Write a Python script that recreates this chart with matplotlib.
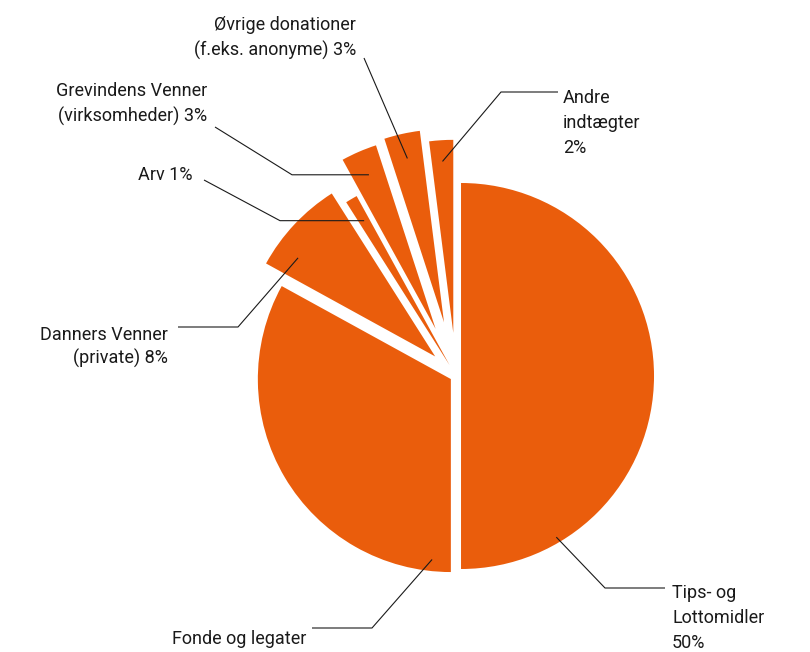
import numpy as np
import matplotlib
matplotlib.use("Agg")
import matplotlib.pyplot as plt

# indtægtsfordeling, medurs fra kl. 12
labels = ["Tips- og\nLottomidler\n50%", "Fonde og legater", "Danners Venner\n(private) 8%",
          "Arv 1%", "Grevindens Venner\n(virksomheder) 3%",
          "Øvrige donationer\n(f.eks. anonyme) 3%", "Andre\nindtægter\n2%"]
shares = [50, 33, 8, 1, 3, 3, 2]

orange = "#EA5D0C"
explode = [0.026, 0.031, 0.148, 0.065, 0.266, 0.285, 0.224]

# billedets pixel -> data (pie radius 1 = 193 px)
W, H = 810, 652
CX, CY, R = 456, 376, 193


def px(x, y):
    return (x - CX) / R, (CY - y) / R


fig = plt.figure(figsize=(W / 100, H / 100), dpi=100)
ax = fig.add_axes([0, 0, 1, 1])
wedges, _ = ax.pie(shares, startangle=90, counterclock=False, explode=explode,
                   colors=[orange] * len(shares), radius=1,
                   wedgeprops=dict(linewidth=0))
ax.set_xlim(-CX / R, (W - CX) / R)
ax.set_ylim((CY - H) / R, CY / R)
ax.axis("off")

# (slice, position i slice 0-1, radius, flat, knæk/ende i px,
#  sidste linjes baseline i px, ha, linjeafstand)
callouts = [
    (0, 0.17, 0.97, False, [(605, 588), (665, 588)], (672, 648), "left", 1.5),
    (1, 0.95, 0.94, False, [(372, 628), (312, 628)], (306, 644), "right", 1.5),
    (2, 0.76, 0.875, False, [(238, 327), (178, 327)], (168, 364), "right", 1.36),
    (3, 0.5, 0.87, True, [(280, 227), (204, 180)], (192, 180), "right", 1.5),
    (4, 0.5, 0.87, True, [(292, 173), (215, 127)], (207, 122), "right", 1.5),
    (5, 0.5, 0.87, False, [(364, 58)], (356, 56), "right", 1.5),
    (6, 0.5, 0.89, False, [(501, 92), (558, 92)], (563, 153), "left", 1.5),
]

for i, f, r, flat, via, txt, ha, ls in callouts:
    w = wedges[i]
    a = np.deg2rad(w.theta1 + f * (w.theta2 - w.theta1))
    x0 = w.center[0] + r * w.r * np.cos(a)
    y0 = w.center[1] + r * w.r * np.sin(a)
    pts = [px(*p) for p in via]
    if flat:
        pts[0] = (pts[0][0], y0)
    xs = [x0] + [p[0] for p in pts]
    ys = [y0] + [p[1] for p in pts]
    ax.plot(xs, ys, color="#1a1a1a", lw=0.8, solid_capstyle="butt")
    ax.text(*px(*txt), labels[i], ha=ha, va="baseline", fontsize=13,
            family="Roboto", color="#1a1a1a", linespacing=ls)

fig.savefig("out.png", dpi=100)
